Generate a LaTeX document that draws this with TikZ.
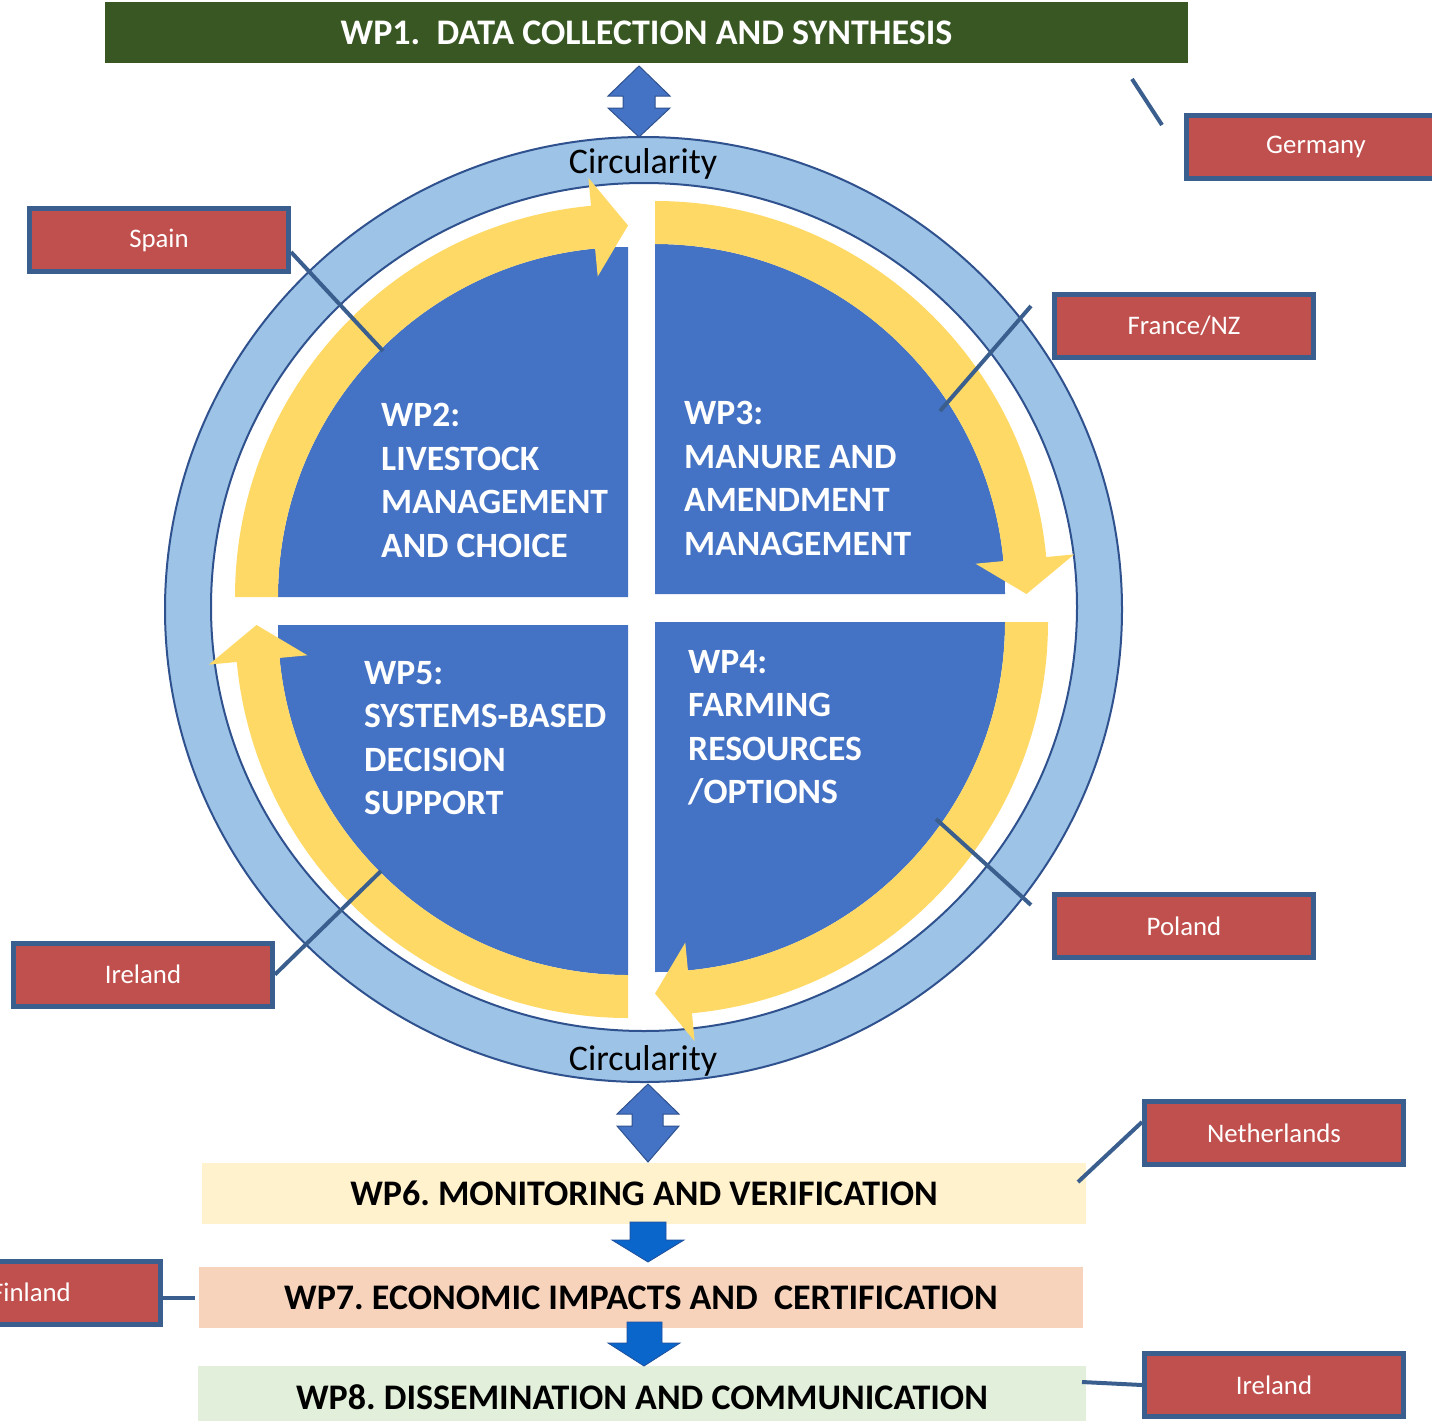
\documentclass[tikz,border=0pt]{standalone}
\usepackage{fontspec}
\setmainfont{Carlito}
\frenchspacing
\definecolor{bannergreen}{HTML}{385723}
\definecolor{ringfill}{HTML}{9DC3E6}
\definecolor{ringline}{HTML}{2F528F}
\definecolor{quadblue}{HTML}{4472C4}
\definecolor{bandyellow}{HTML}{FFD966}
\definecolor{boxred}{HTML}{C0504D}
\definecolor{boxline}{HTML}{3A5F8E}
\definecolor{wpsix}{HTML}{FFF2CC}
\definecolor{wpseven}{HTML}{F8D3BC}
\definecolor{wpeight}{HTML}{E2EFDA}
\definecolor{flowblue}{HTML}{0B66CC}
\definecolor{flowedge}{HTML}{1F4E9A}
\begin{document}
\begin{tikzpicture}[x=1pt, y=-1pt,
  country/.style={draw=boxline, line width=5pt, fill=boxred, text=white,
    font=\fontsize{26.8}{30}\selectfont, minimum width=259pt, minimum height=63pt, inner sep=0pt},
  link/.style={draw=boxline, line width=4pt},
  wpbar/.style={minimum width=884pt, minimum height=61pt, inner sep=0pt,
    font=\bfseries\fontsize{36}{40}\selectfont},
  wptext/.style={text=white, font=\bfseries\fontsize{35.6}{43.5}\selectfont,
    align=left, anchor=north west, inner sep=0pt},
  ringtext/.style={font=\fontsize{36}{40}\selectfont, anchor=base, inner sep=0pt},
  dblarrow/.style={fill=quadblue, draw=ringline, line width=1pt},
  flowarrow/.style={fill=flowblue, draw=flowedge, line width=0.8pt}]
\useasboundingbox (0,0) rectangle (1432,1421);

% top banner
\node[fill=bannergreen, text=white, minimum width=1083pt, minimum height=61pt, inner sep=0pt,
  font=\bfseries\fontsize{36}{40}\selectfont] (wp1) at (646.5,32.5)
  {WP1.\ \ DATA COLLECTION AND SYNTHESIS};

% circularity ring
\fill[ringfill, even odd rule] (643.5,609.5) ellipse[x radius=478.5, y radius=472.5]
  (644,607) ellipse[x radius=433, y radius=424];
\draw[ringline, line width=2pt] (643.5,609.5) ellipse[x radius=478.5, y radius=472.5];
\draw[ringline, line width=2pt] (644,607) ellipse[x radius=433, y radius=424];
\node[ringtext] (circtop) at (643,173) {Circularity};
\node[ringtext] (circbot) at (643,1070) {Circularity};

% quadrants and their clockwise arrows
\foreach \cx/\cy/\a in {628/597/180, 655/594/270, 655/622/0, 628/625/90} {
  \begin{scope}[shift={(\cx,\cy)}]
    \fill[quadblue] (0,0) -- (\a:350) arc[start angle=\a, end angle=\a+90, radius=350] -- cycle;
    \fill[bandyellow] (\a:350) arc[start angle=\a, end angle=\a+84.6, radius=350]
      -- (\a+84.6:322) -- (\a+90:371.5) -- (\a+84.6:421) -- (\a+84.6:393)
      arc[start angle=\a+84.6, end angle=\a, radius=393] -- cycle;
  \end{scope}
}

% quadrant labels
\node[wptext] (wp2) at (381,403) {WP2:\\LIVESTOCK\\MANAGEMENT\\AND CHOICE};
\node[wptext] (wp3) at (684,401) {WP3:\\MANURE AND\\AMENDMENT\\MANAGEMENT};
\node[wptext] (wp4) at (688,650) {WP4:\\FARMING\\RESOURCES\\/OPTIONS};
\node[wptext] (wp5) at (364,661) {WP5:\\SYSTEMS-BASED\\DECISION\\SUPPORT};

% two-way arrows to and from the ring
\filldraw[dblarrow] (639,66) -- (670,96) -- (655,96) -- (655,108) -- (670,108) -- (639,137)
  -- (608,108) -- (623,108) -- (623,96) -- (608,96) -- cycle;
\filldraw[dblarrow] (648,1084) -- (679,1114) -- (663,1114) -- (663,1126) -- (679,1126) -- (648,1162)
  -- (617,1126) -- (632,1126) -- (632,1114) -- (617,1114) -- cycle;

% lower work packages
\node[wpbar, fill=wpsix] (wp6) at (644,1193) {WP6. MONITORING AND VERIFICATION};
\node[wpbar, fill=wpseven] (wp7) at (641,1297.5) {WP7. ECONOMIC IMPACTS AND\ \ CERTIFICATION};
\node[wpbar, fill=wpeight, minimum width=888pt, minimum height=62pt] (wp8) at (642,1397)
  {WP8. DISSEMINATION AND COMMUNICATION};

\filldraw[flowarrow] (630,1222) -- (666,1222) -- (666,1240) -- (684,1240) -- (648,1262)
  -- (612,1240) -- (630,1240) -- cycle;
\filldraw[flowarrow] (627,1322) -- (662,1322) -- (662,1343) -- (680,1343) -- (644,1366)
  -- (608,1343) -- (627,1343) -- cycle;

% partner boxes
\node[country] (ger) at (1316,146.5) {Germany};
\node[country] (spain) at (159,240) {Spain};
\node[country] (fra) at (1184,326) {France/NZ};
\node[country] (pol) at (1184,926) {Poland};
\node[country] (irel) at (143,974.5) {Ireland};
\node[country] (neth) at (1274,1133) {Netherlands};
\node[country] (fin) at (31,1292.5) {Finland};
\node[country] (irer) at (1274,1385) {Ireland};

% leader lines
\coordinate (ger-a) at (1132,79);
\coordinate (ger-b) at (1162,125);
\coordinate (spain-end) at (383,351);
\coordinate (fra-a) at (1031,306);
\coordinate (fra-b) at (940,411);
\coordinate (pol-a) at (1031,905);
\coordinate (pol-b) at (936,819);
\coordinate (irel-end) at (381,871);
\coordinate (neth-end) at (1078,1182);
\coordinate (irer-end) at (1082,1382);
\draw[link] (ger-a) -- (ger-b);
\draw[link] ([yshift=-12pt]spain.east) -- (spain-end);
\draw[link] (fra-a) -- (fra-b);
\draw[link] (pol-a) -- (pol-b);
\draw[link] (irel.east) -- (irel-end);
\draw[link] ([yshift=11pt]neth.west) -- (neth-end);
\draw[link] (fin.east |- wp7.west) -- ([xshift=-4pt]wp7.west);
\draw[link] (irer.west) -- (irer-end);
\end{tikzpicture}
\end{document}
